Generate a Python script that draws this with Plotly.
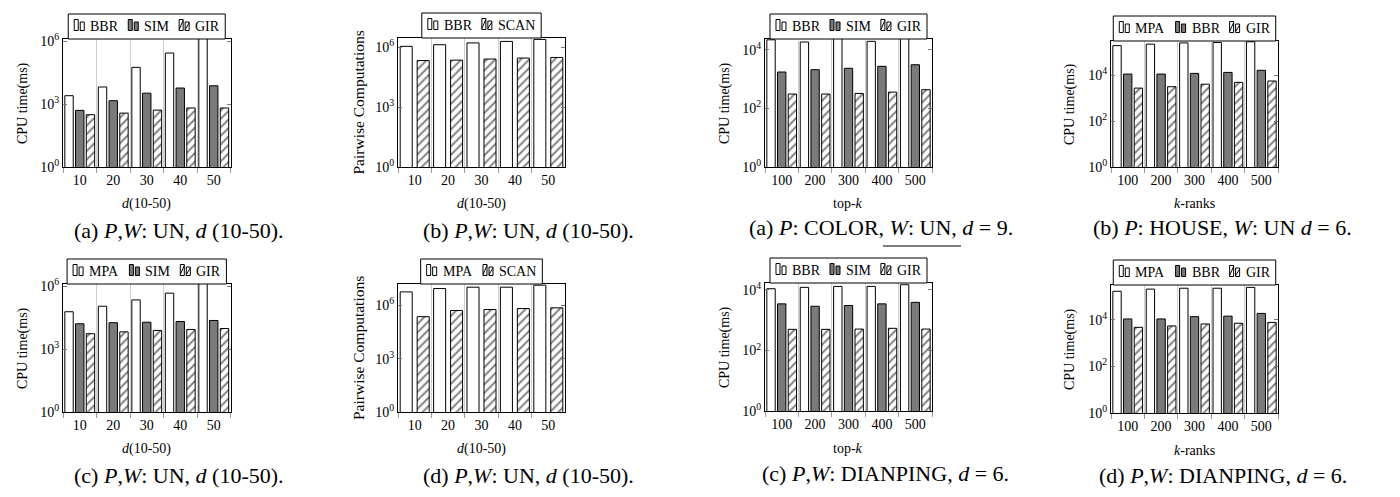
import plotly.graph_objects as go

W, H = 1400, 497
FONT = "Liberation Serif"

# ---------------- data ----------------
d_labels = ["10", "20", "30", "40", "50"]
k_labels = ["100", "200", "300", "400", "500"]

# (a) left-top: P,W: UN, d (10-50), CPU time
a_bbr = [2500, 6500, 56000, 270000, 3000000]
a_sim = [500, 1440, 3300, 5800, 7400]
a_gir = [310, 370, 515, 650, 650]

# (b) left-top: pairwise computations
b_bbr = [1.08e6, 1.3e6, 1.6e6, 1.9e6, 2.4e6]
b_scan = [2.1e5, 2.2e5, 2.5e5, 2.8e5, 3.0e5]

# (c) left-bottom: CPU time
c_mpa = [60000, 110000, 220000, 460000, 3000000]
c_sim = [16000, 18000, 19000, 20500, 23000]
c_gir = [5400, 6600, 7700, 8600, 9500]

# (d) left-bottom: pairwise computations
d_mpa = [5.7e6, 8.8e6, 1.05e7, 1.05e7, 1.36e7]
d_scan = [2.3e5, 5.1e5, 5.8e5, 6.6e5, 7.2e5]

# (a) right-top: P: COLOR, W: UN, d=9
ra_bbr = [22000, 18500, 25000, 19500, 25000]
ra_sim = [1750, 2100, 2340, 2730, 3100]
ra_gir = [310, 310, 325, 360, 435]

# (b) right-top: P: HOUSE, W: UN, d=6
rb_mpa = [190000, 220000, 250000, 260000, 280000]
rb_bbr = [11000, 11000, 11800, 13000, 16000]
rb_gir = [2700, 3100, 4000, 4800, 5500]

# (c) right-bottom: P,W: DIANPING, top-k
rc_bbr = [11000, 12200, 13100, 13100, 14900]
rc_sim = [3470, 2900, 3070, 3470, 3900]
rc_gir = [500, 500, 510, 540, 510]

# (d) right-bottom: P,W: DIANPING, k-ranks
rd_mpa = [170000, 210000, 230000, 230000, 250000]
rd_bbr = [11000, 11000, 13800, 14500, 19000]
rd_gir = [4800, 5500, 6700, 7200, 7800]

# ---------------- styles ----------------
LINE = dict(color="black", width=1)
GRAY = "#7a7a7a"
STY = {
    "white": dict(color="white", line=LINE),
    "gray": dict(color=GRAY, line=LINE),
    "hatch": dict(color="white", line=LINE,
                  pattern=dict(shape="/", fgcolor="black", bgcolor="white",
                               size=6, solidity=0.32)),
}

def px(x):
    return x / W

def py(y):
    return 1 - y / H

panels = [
    dict(box=(55, 222.5, 31, 159), top=6.1, cats=d_labels,
         series=[("BBR", a_bbr, "white"), ("SIM", a_sim, "gray"), ("GIR", a_gir, "hatch")],
         yt="CPU time(ms)", yts=14, ytx=15, xt="<i>d</i>(10-50)", ticks=[0, 3, 6],
         cap="(a) <i>P</i>,<i>W</i>: UN, <i>d</i> (10-50).", capx=171, capy=223),
    dict(box=(390, 557, 30, 159), top=6.45, cats=d_labels,
         series=[("BBR", b_bbr, "white"), ("SCAN", b_scan, "hatch")],
         yt="Pairwise Computations", yts=15.5, ytx=350, xt="<i>d</i>(10-50)", ticks=[0, 3, 6],
         cap="(b) <i>P</i>,<i>W</i>: UN, <i>d</i> (10-50).", capx=520, capy=223),
    dict(box=(757, 924, 31, 159), top=4.37, cats=k_labels,
         series=[("BBR", ra_bbr, "white"), ("SIM", ra_sim, "gray"), ("GIR", ra_gir, "hatch")],
         yt="CPU time(ms)", yts=14, ytx=717, xt="top-<i>k</i>", ticks=[0, 2, 4],
         cap="(a) <i>P</i>: COLOR, <i>W</i>: UN, <i>d</i> = 9.", capx=873, capy=219),
    dict(box=(1103, 1270, 33, 159), top=5.48, cats=k_labels,
         series=[("MPA", rb_mpa, "white"), ("BBR", rb_bbr, "gray"), ("GIR", rb_gir, "hatch")],
         yt="CPU time(ms)", yts=14, ytx=1062, xt="<i>k</i>-ranks", ticks=[0, 2, 4],
         cap="(b) <i>P</i>: HOUSE, <i>W</i>: UN <i>d</i> = 6.", capx=1214, capy=219),
    dict(box=(55, 222.5, 276, 404), top=6.1, cats=d_labels,
         series=[("MPA", c_mpa, "white"), ("SIM", c_sim, "gray"), ("GIR", c_gir, "hatch")],
         yt="CPU time(ms)", yts=14, ytx=15, xt="<i>d</i>(10-50)", ticks=[0, 3, 6],
         cap="(c) <i>P</i>,<i>W</i>: UN, <i>d</i> (10-50).", capx=171, capy=467),
    dict(box=(390, 557, 276, 404), top=7.2, cats=d_labels,
         series=[("MPA", d_mpa, "white"), ("SCAN", d_scan, "hatch")],
         yt="Pairwise Computations", yts=15.5, ytx=350, xt="<i>d</i>(10-50)", ticks=[0, 3, 6],
         cap="(d) <i>P</i>,<i>W</i>: UN, <i>d</i> (10-50).", capx=520, capy=467),
    dict(box=(757, 924, 275, 403), top=4.23, cats=k_labels,
         series=[("BBR", rc_bbr, "white"), ("SIM", rc_sim, "gray"), ("GIR", rc_gir, "hatch")],
         yt="CPU time(ms)", yts=14, ytx=717, xt="top-<i>k</i>", ticks=[0, 2, 4],
         cap="(c) <i>P</i>,<i>W</i>: DIANPING, <i>d</i> = 6.", capx=877, capy=465),
    dict(box=(1103, 1270, 277, 405), top=5.5, cats=k_labels,
         series=[("MPA", rd_mpa, "white"), ("BBR", rd_bbr, "gray"), ("GIR", rd_gir, "hatch")],
         yt="CPU time(ms)", yts=14, ytx=1062, xt="<i>k</i>-ranks", ticks=[0, 2, 4],
         cap="(d) <i>P</i>,<i>W</i>: DIANPING, <i>d</i> = 6.", capx=1215, capy=467),
]

# approximate Times/Liberation Serif advance widths (per em)
CW = {"A": .722, "B": .667, "C": .667, "G": .722, "I": .333, "M": .889,
      "N": .722, "P": .556, "R": .667, "S": .556}

def text_w(s, size):
    return sum(CW.get(c, .6) for c in s) * size

fig = go.Figure()
layout = dict(width=W, height=H,
              margin=dict(l=0, r=0, t=0, b=0, pad=0, autoexpand=False),
              paper_bgcolor="white", plot_bgcolor="white", barmode="overlay",
              showlegend=False,
              font=dict(family=FONT, size=13, color="black"))
annotations = []
shapes = []

LEG_FS = 14
def add_legend(cx, ybot, series):
    pad_l, pad_r, icon_w, gap_it, gap_e = 6, 8, 10, 4, 12
    widths = [text_w(n, LEG_FS) for n, _, _ in series]
    total = pad_l + sum(icon_w + gap_it + w for w in widths) + gap_e * (len(series) - 1) + pad_r
    x0 = cx - total / 2
    ytop = ybot - 25
    shapes.append(dict(type="rect", xref="paper", yref="paper",
                       x0=px(x0), x1=px(x0 + total), y0=py(ybot), y1=py(ytop),
                       line=dict(color="black", width=1), fillcolor="white", layer="above"))
    x = x0 + pad_l
    base = ytop + 16.5
    for (name, _, sty), w in zip(series, widths):
        for bx0, bx1, hgt in ((x, x + 4, 11), (x + 6, x + 10, 8.5)):
            fill = GRAY if sty == "gray" else "white"
            shapes.append(dict(type="rect", xref="paper", yref="paper",
                               x0=px(bx0), x1=px(bx1), y0=py(base), y1=py(base - hgt),
                               line=dict(color="black", width=1), fillcolor=fill, layer="above"))
            if sty == "hatch":
                shapes.append(dict(type="line", xref="paper", yref="paper",
                                   x0=px(bx0), x1=px(bx1), y0=py(base - 1), y1=py(base - hgt + 1),
                                   line=dict(color="black", width=1), layer="above"))
        annotations.append(dict(text=name, x=px(x + icon_w + gap_it), y=py(ytop + 12.5),
                                xref="paper", yref="paper", showarrow=False,
                                xanchor="left", yanchor="middle", font=dict(size=LEG_FS)))
        x += icon_w + gap_it + w + gap_e

for i, p in enumerate(panels, start=1):
    x0, x1, yt, yb = p["box"]
    xd, yd = [px(x0), px(x1)], [py(yb), py(yt)]
    sfx = "" if i == 1 else str(i)
    n = len(p["series"])
    if n == 3:
        width = 0.25
        offs = [-0.445, -0.125, 0.195]
    else:
        width = 0.36
        offs = [-0.434, 0.074]
    for (name, vals, sty), off in zip(p["series"], offs):
        fig.add_trace(go.Bar(
            x=p["cats"], y=vals, name=name, width=width, offset=off,
            marker=STY[sty], xaxis="x" + sfx, yaxis="y" + sfx))
    layout["xaxis" + sfx] = dict(
        domain=xd, anchor="y" + sfx, type="category", tickson="boundaries",
        showgrid=True, gridcolor="#cfcfcf", gridwidth=1,
        ticks="outside", ticklen=5, tickcolor="#9a9a9a",
        showline=True, linecolor="black", linewidth=1, mirror=True,
        tickfont=dict(size=14), range=[-0.5, 4.5], fixedrange=True)
    layout["yaxis" + sfx] = dict(
        domain=yd, anchor="x" + sfx, type="log", range=[0, p["top"]],
        tickvals=[10 ** t for t in p["ticks"]],
        ticktext=["10<sup>%d</sup>" % t for t in p["ticks"]],
        ticks="inside", ticklen=4, tickcolor="#777", mirror="ticks",
        showline=True, linecolor="black", linewidth=1, showgrid=False,
        tickfont=dict(size=14), fixedrange=True)
    add_legend((x0 + x1) / 2, yt, p["series"])
    annotations.append(dict(text=p["yt"], x=px(p["ytx"]), y=py((yt + yb) / 2),
                            xref="paper", yref="paper", textangle=-90, showarrow=False,
                            xanchor="center", yanchor="middle", font=dict(size=p["yts"])))
    annotations.append(dict(text=p["xt"], x=px((x0 + x1) / 2), y=py(yb + 37),
                            xref="paper", yref="paper", showarrow=False,
                            xanchor="center", yanchor="middle", font=dict(size=14)))
    annotations.append(dict(text=p["cap"], x=px(p["capx"]), y=py(p["capy"]),
                            xref="paper", yref="paper", showarrow=False,
                            xanchor="center", yanchor="middle", font=dict(size=22)))

# thin rule seen under the right-top caption in the reference
shapes.append(dict(type="line", xref="paper", yref="paper", x0=px(875), x1=px(953),
                   y0=py(238), y1=py(238), line=dict(color="black", width=1)))

layout["annotations"] = annotations
layout["shapes"] = shapes
fig.update_layout(**layout)
fig.write_html("out.html")
